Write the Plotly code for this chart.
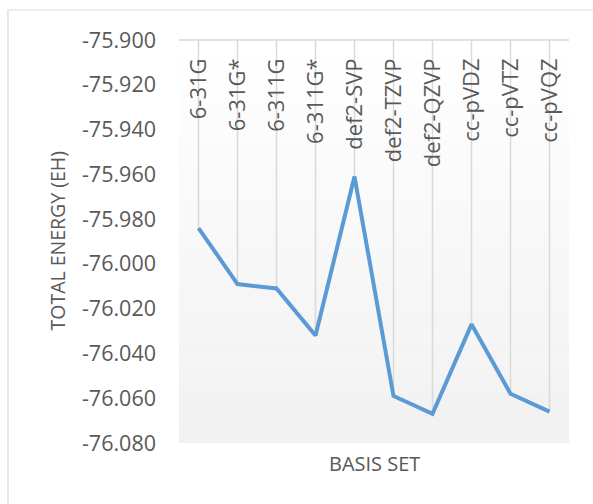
import plotly.graph_objects as go

categories = ["6-31G", "6-31G*", "6-311G", "6-311G*", "def2-SVP", "def2-TZVP",
              "def2-QZVP", "cc-pVDZ", "cc-pVTZ", "cc-pVQZ"]
energies = [-75.984, -76.009, -76.011, -76.032, -75.961, -76.059,
            -76.067, -76.027, -76.058, -76.066]
y_tick_vals = [-75.90, -75.92, -75.94, -75.96, -75.98, -76.00, -76.02, -76.04, -76.06, -76.08]
y_tick_text = ["-75.900", "-75.920", "-75.940", "-75.960", "-75.980", "-76.000",
               "-76.020", "-76.040", "-76.060", "-76.080"]
Y_TOP = -75.90
Y_BOTTOM = -76.08

FONT = "Open Sans"
TXT = "#595959"

fig = go.Figure()

# drop lines from the category axis (top) down to each point
fig.add_trace(go.Scatter(
    x=categories, y=energies, mode="markers",
    marker=dict(size=1, opacity=0),
    error_y=dict(type="data", symmetric=False,
                 array=[Y_TOP - v for v in energies],
                 arrayminus=[0] * len(energies),
                 color="#d9d9d9", thickness=1.5, width=0),
    hoverinfo="skip", showlegend=False,
))

fig.add_trace(go.Scatter(
    x=categories, y=energies, mode="lines",
    line=dict(color="#5b9bd5", width=4),
    showlegend=False,
))

# gradient plot background
n = 40
for i in range(n):
    t = i / (n - 1)
    c = int(round(255 - t * 14))
    fig.add_shape(type="rect", xref="x domain", yref="y domain",
                  x0=0, x1=1, y0=1 - (i + 1) / n, y1=1 - i / n,
                  fillcolor=f"rgb({c},{c},{c})", line=dict(width=0), layer="below")

# top axis line
fig.add_shape(type="line", xref="x domain", yref="y domain",
              x0=0, x1=1, y0=1, y1=1, line=dict(color="#d9d9d9", width=1.3))

# chart border
fig.add_shape(type="rect", xref="paper", yref="paper",
              x0=(8 - 179) / 390, x1=2.0, y0=-1.0, y1=(443 - 10) / 403,
              line=dict(color="#d9d9d9", width=1.2), fillcolor="rgba(0,0,0,0)")

fig.add_annotation(text="BASIS SET", xref="paper", yref="paper",
                   x=0.5, y=(443 - 463) / 403, showarrow=False,
                   font=dict(family=FONT, size=20, color=TXT),
                   xanchor="center", yanchor="middle")

fig.update_layout(
    width=593, height=504,
    margin=dict(l=179, r=24, t=40, b=61),
    paper_bgcolor="white", plot_bgcolor="white",
    font=dict(family=FONT, color=TXT),
    xaxis=dict(type="category", side="bottom", anchor="free",
               position=(443 - 53) / 403, range=[-0.5, 9.5],
               showline=False, showgrid=False, zeroline=False, ticks="",
               tickangle=-90, ticklabelstandoff=0,
               tickfont=dict(family=FONT, size=22, color=TXT)),
    yaxis=dict(range=[Y_BOTTOM, Y_TOP], tickvals=y_tick_vals, ticktext=y_tick_text,
               showline=False, showgrid=False, zeroline=False, ticks="",
               ticklabelstandoff=22,
               tickfont=dict(family=FONT, size=21.5, color=TXT)),
)
fig.add_annotation(text="TOTAL ENERGY (EH)", xref="paper", yref="paper",
                   x=(57 - 179) / 390, y=0.5, textangle=-90, showarrow=False,
                   font=dict(family=FONT, size=19.5, color=TXT),
                   xanchor="center", yanchor="middle")

fig.write_html("out.html")
